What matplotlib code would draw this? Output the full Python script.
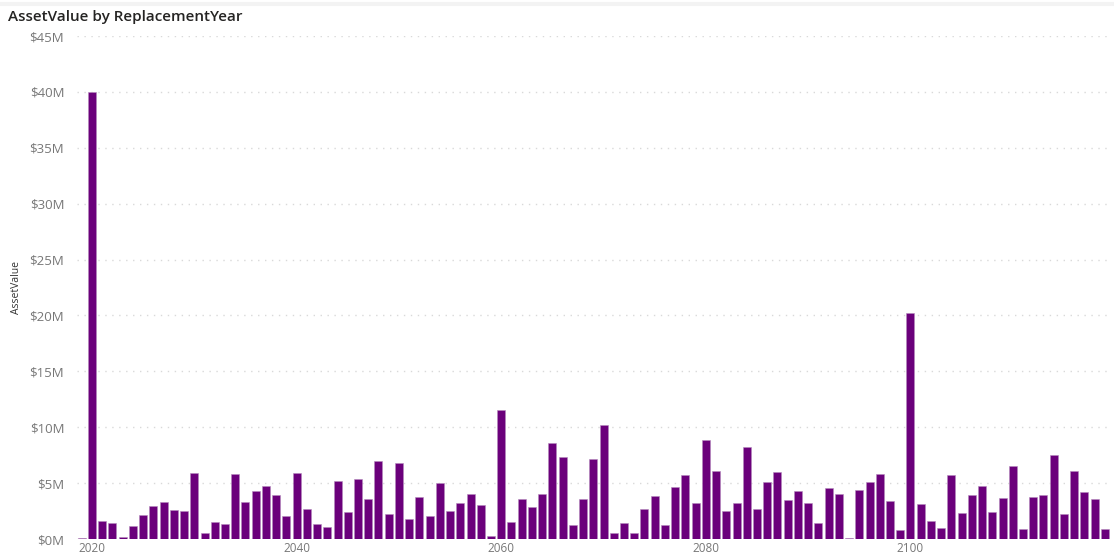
import matplotlib.pyplot as plt
from matplotlib.ticker import FuncFormatter, MultipleLocator

# replacement years 2019..2119 and asset value in $M
years = list(range(2019, 2120))
asset_value = [
    0.05, 40.0, 1.62, 1.41, 0.21, 1.14, 2.12, 2.96, 3.35, 2.63,
    2.48, 5.89, 0.51, 1.53, 1.35, 5.83, 3.29, 4.31, 4.70, 3.92,
    2.06, 5.87, 2.69, 1.38, 1.11, 5.18, 2.42, 5.36, 3.56, 6.97,
    2.27, 6.82, 1.80, 3.77, 2.06, 5.03, 2.54, 3.23, 4.07, 3.08,
    0.24, 11.58, 1.53, 3.59, 2.84, 4.01, 8.56, 7.30, 1.29, 3.56,
    7.18, 10.20, 0.57, 1.47, 0.51, 2.69, 3.83, 1.26, 4.64, 5.72,
    3.23, 8.89, 6.10, 2.48, 3.20, 8.20, 2.66, 5.09, 6.01, 3.53,
    4.28, 3.20, 1.41, 4.55, 4.07, 0.12, 4.40, 5.06, 5.86, 3.41,
    0.81, 20.25, 3.11, 1.59, 0.96, 5.72, 2.33, 3.95, 4.73, 2.39,
    3.68, 6.49, 0.93, 3.74, 3.98, 7.54, 2.27, 6.10, 4.25, 3.62,
    0.87,
]
x_ticks = [2020, 2040, 2060, 2080, 2100]

fig = plt.figure(figsize=(11.14, 5.53), dpi=100)
ax = fig.add_axes([0.0688, 0.0253, 0.9276, 0.9096])

ax.bar(years, asset_value, width=0.78, color='#6B007B', edgecolor='#b58abd', linewidth=0.4)

ax.set_xlim(2018.5, 2119.5)
ax.set_ylim(0, 45)
ax.yaxis.set_major_locator(MultipleLocator(5))
ax.yaxis.set_major_formatter(FuncFormatter(lambda v, p: '$%dM' % v))
ax.set_xticks(x_ticks)

ax.grid(axis='y', color='#d9d9d9', linestyle=(0, (1, 4)), linewidth=1)
ax.set_axisbelow(True)
for s in ax.spines.values():
    s.set_visible(False)
ax.tick_params(length=0, colors='#777777', labelsize=8.5)
ax.tick_params(axis='y', pad=9, labelsize=9.5)
ax.tick_params(axis='x', pad=2)
for lab in ax.get_xticklabels() + ax.get_yticklabels():
    lab.set_family('Open Sans')

ax.set_ylabel('AssetValue', fontsize=7.5, color='#333333', family='Open Sans', labelpad=5)

fig.text(0.007, 0.97, 'AssetValue by ReplacementYear', fontsize=11, color='#252423',
         family='Open Sans', weight='semibold', va='center', ha='left')

# faint header band
fig.add_artist(plt.Line2D([0, 1], [0.992, 0.992], color='#f3f3f3', linewidth=3))

fig.savefig('out.png', dpi=100)
